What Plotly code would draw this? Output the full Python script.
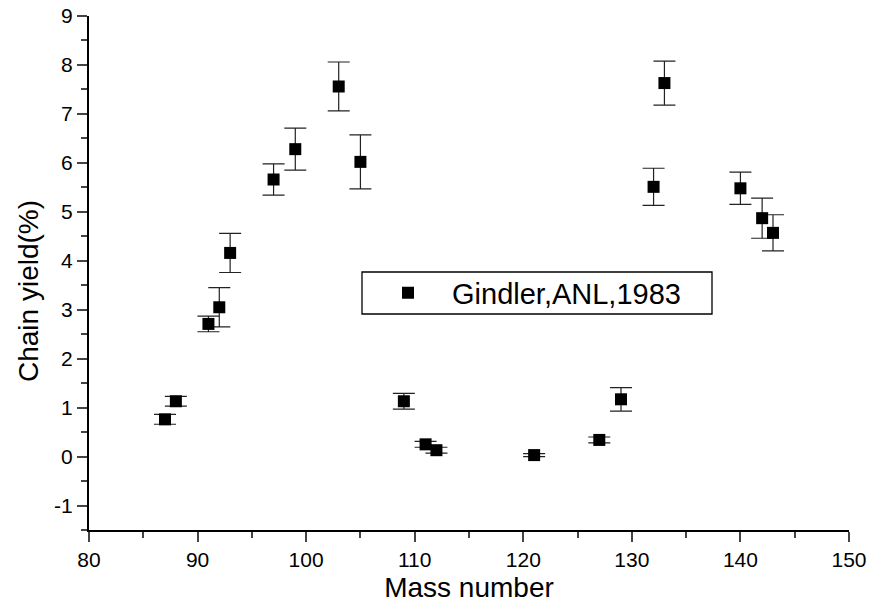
import plotly.graph_objects as go

mass = [87, 88, 91, 92, 93, 97, 99, 103, 105, 109, 111, 112, 121, 127, 129, 132, 133, 140, 142, 143]
yield_pct = [0.76, 1.13, 2.71, 3.05, 4.16, 5.66, 6.28, 7.56, 6.02, 1.13, 0.25, 0.13, 0.03, 0.34, 1.17, 5.51, 7.63, 5.48, 4.87, 4.57]
err = [0.10, 0.10, 0.16, 0.40, 0.40, 0.32, 0.43, 0.50, 0.55, 0.16, 0.06, 0.06, 0.03, 0.06, 0.24, 0.38, 0.45, 0.33, 0.41, 0.37]

y_tickvals = [-1, 0, 1, 2, 3, 4, 5, 6, 7, 8, 9]
y_ticktext = ["-1", "0", "1", "2", "3", "4", "5", "6", "7", "8", "9"]

series_name = "Gindler,ANL,1983"
x_title = "Mass number"
y_title = "Chain yield(%)"

W, H = 871, 609
L, R, T, B = 89, 849, 16, 530

fig = go.Figure()
fig.add_trace(go.Scatter(
    x=mass, y=yield_pct, mode="markers", name=series_name,
    marker=dict(symbol="square", size=12, color="black"),
    error_y=dict(type="data", array=err, visible=True, color="#222", thickness=1.2, width=11),
))

def px_x(p):
    return (p - L) / (R - L)

def px_y(p):
    return (B - p) / (B - T)

fig.add_shape(type="rect", xref="paper", yref="paper",
              x0=px_x(362), x1=px_x(712), y0=px_y(314), y1=px_y(272),
              line=dict(color="black", width=1.3), fillcolor="rgba(0,0,0,0)")

font_family = "Liberation Sans, Arial, sans-serif"

fig.add_annotation(text=y_title, xref="paper", yref="paper",
                   x=px_x(28), y=px_y(291), xanchor="center", yanchor="middle",
                   textangle=-90, showarrow=False,
                   font=dict(size=28, family=font_family, color="black"))

fig.update_layout(
    width=W, height=H,
    margin=dict(l=L, r=W - R, t=T, b=H - B, autoexpand=False),
    paper_bgcolor="white", plot_bgcolor="white",
    font=dict(family=font_family, color="black", size=21),
    showlegend=True,
    legend=dict(x=px_x(364), y=px_y(293), xanchor="left", yanchor="middle",
                bgcolor="rgba(0,0,0,0)", borderwidth=0, itemwidth=78,
                font=dict(size=29, family=font_family)),
    xaxis=dict(range=[80, 150], dtick=10, tick0=80, ticks="outside", ticklen=10, tickwidth=2,
               showline=True, linewidth=2, linecolor="black", showgrid=False, zeroline=False,
               automargin=False,
               minor=dict(dtick=5, ticks="outside", ticklen=6, tickwidth=2, showgrid=False),
               title=dict(text=x_title, font=dict(size=28), standoff=7),
               tickfont=dict(size=21)),
    yaxis=dict(range=[-1.5, 9], tickmode="array", tickvals=y_tickvals, ticktext=y_ticktext,
               ticks="outside", ticklen=10, tickwidth=2,
               showline=True, linewidth=2, linecolor="black", showgrid=False, zeroline=False,
               automargin=False,
               minor=dict(dtick=0.5, ticks="outside", ticklen=6, tickwidth=2, showgrid=False),
               tickfont=dict(size=21)),
)

fig.write_html("out.html")
